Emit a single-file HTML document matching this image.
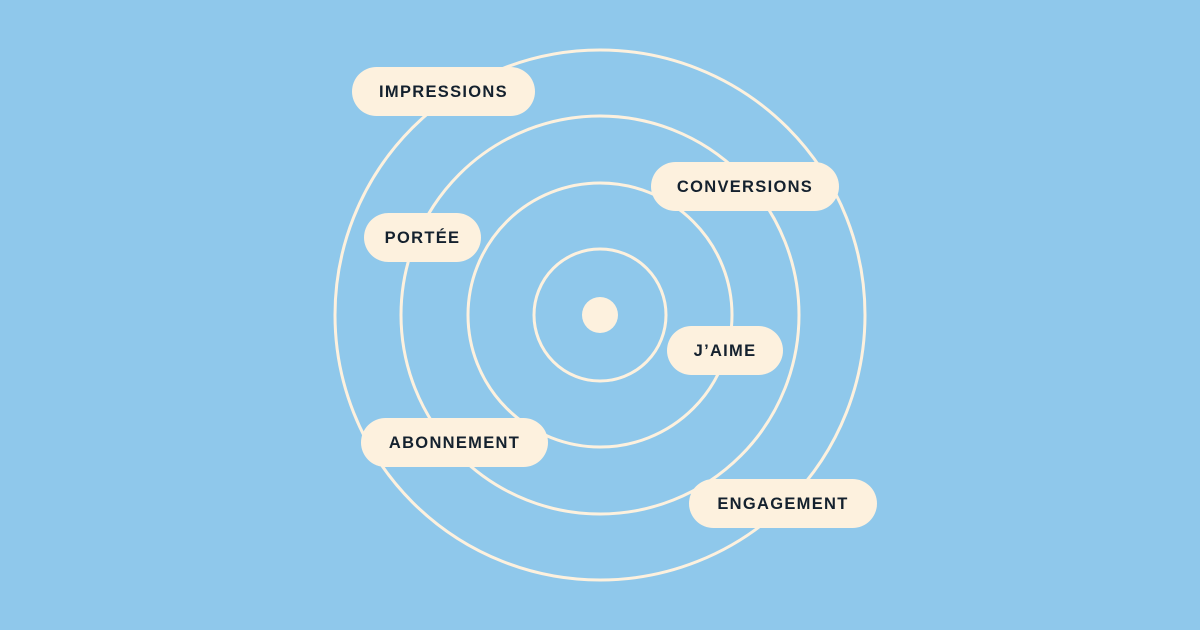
<!DOCTYPE html>
<html><head><meta charset="utf-8"><style>
body{margin:0;width:1200px;height:630px;background:#8fc8eb;position:relative;overflow:hidden;font-family:"Liberation Sans",sans-serif}
svg{position:absolute;left:0;top:0}
.p{position:absolute;height:49px;border-radius:25px;background:#fdf1de;color:#14212e;font-weight:bold;font-size:16.5px;letter-spacing:1.3px;display:flex;align-items:center;justify-content:center;padding-top:2px;box-sizing:border-box}
</style></head><body>
<svg width="1200" height="630">
<g fill="none" stroke="#fdf1de" stroke-width="3">
<circle cx="600" cy="315" r="265"/>
<circle cx="600" cy="315" r="199"/>
<circle cx="600" cy="315" r="132"/>
<circle cx="600" cy="315" r="66"/>
</g>
<circle cx="600" cy="315" r="18" fill="#fdf1de"/>
</svg>
<div class="p" style="left:352px;top:67px;width:183px">IMPRESSIONS</div>
<div class="p" style="left:651px;top:162px;width:188px">CONVERSIONS</div>
<div class="p" style="left:364px;top:213px;width:117px">PORTÉE</div>
<div class="p" style="left:667px;top:326px;width:116px">J’AIME</div>
<div class="p" style="left:361px;top:418px;width:187px">ABONNEMENT</div>
<div class="p" style="left:689px;top:479px;width:188px">ENGAGEMENT</div>
</body></html>
